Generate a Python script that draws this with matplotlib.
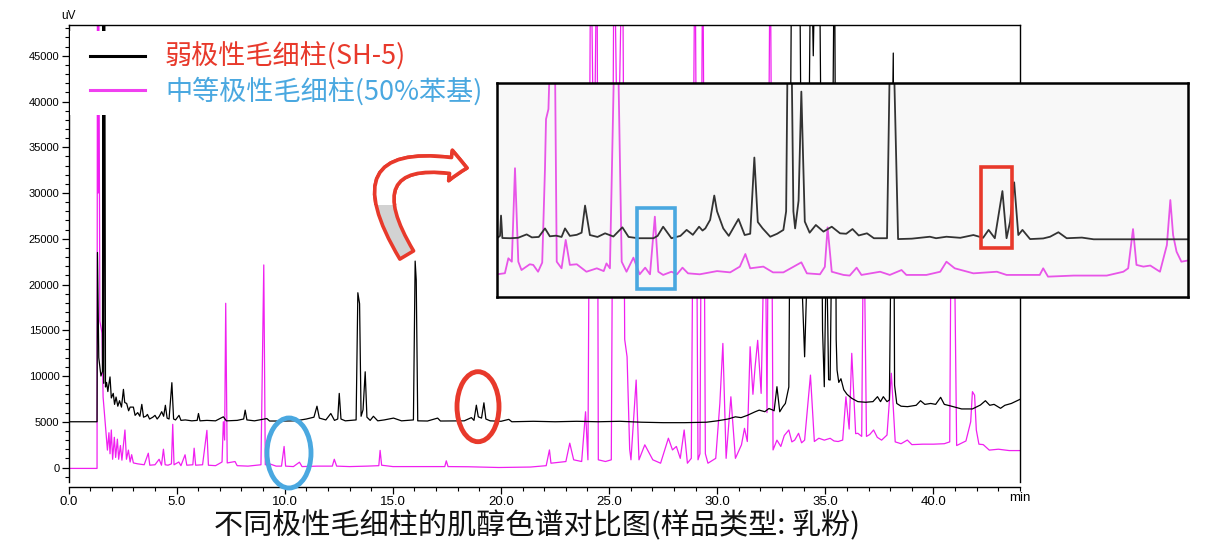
import matplotlib
matplotlib.use('Agg')
import matplotlib.pyplot as plt
from matplotlib.patches import Ellipse, Rectangle, FancyArrowPatch
from matplotlib.ticker import MultipleLocator, FixedLocator

plt.rcParams['font.family'] = ['Liberation Sans', 'DejaVu Sans']
CJK = ['Noto Sans CJK SC', 'DejaVu Sans']

# ---------------- data (main chromatogram, retention time in min, signal in uV) ----------------
sh5_time = [0, 1.32, 1.34, 1.40, 1.50, 1.57, 1.60, 1.63, 1.67, 1.71, 1.76, 1.82, 1.86, 1.92, 1.98,
            2.07, 2.13, 2.20, 2.28, 2.36, 2.45, 2.54, 2.60, 2.69, 2.78, 2.85, 3.00, 3.08, 3.20, 3.30,
            3.39, 3.47, 3.58, 3.65, 3.75, 3.90, 4.00, 4.10, 4.20, 4.31, 4.40, 4.48, 4.56, 4.65, 4.78,
            4.86, 4.95, 5.11, 5.20, 5.40, 5.70, 5.95, 6.01, 6.08, 6.40, 6.80, 7.16, 7.30, 7.80, 8.10,
            8.17, 8.25, 8.60, 9.17, 9.30, 10.0, 10.5, 11.0, 11.35, 11.49, 11.6, 11.9, 12.13, 12.3,
            12.45, 12.52, 12.6, 12.8, 13.3, 13.38, 13.46, 13.53, 13.62, 13.72, 13.8, 13.95, 14.1,
            14.3, 14.6, 15.03, 15.4, 15.95, 16.03, 16.08, 16.15, 16.6, 17.07, 17.2, 18.3, 18.63,
            18.75, 18.86, 18.95, 19.1, 19.21, 19.3, 19.5, 20.0, 20.36, 20.5, 21.5, 22.5, 23.5, 24.5,
            25.5, 26.5, 27.5, 28.5, 29.5, 30.0, 30.5, 30.84, 31.1, 31.39, 31.75, 31.94, 32.2, 32.39,
            32.55, 32.63, 32.76, 32.89, 33.03, 33.15, 33.31, 33.45, 33.56, 33.68, 33.8, 33.92, 34.04,
            34.2, 34.33, 34.44, 34.55, 34.65, 34.75, 34.87, 34.95, 35.05, 35.15, 35.22, 35.32, 35.42,
            35.5, 35.54, 35.62, 35.72, 35.85, 36.0, 36.22, 36.5, 36.86, 37.2, 37.41, 37.55, 37.68,
            37.85, 37.96, 38.06, 38.14, 38.2, 38.3, 38.5, 38.8, 39.05, 39.2, 39.4, 39.6, 39.87, 40.1,
            40.33, 40.5, 40.8, 41.3, 41.8, 42.17, 42.4, 42.6, 42.8, 43.1, 43.3, 43.6, 44.0]
sh5_signal = [5000, 5000, 23500, 12000, 10000, 10500, 60000, 9200, 60000, 8800, 9300, 8300, 9000, 9900, 7600,
              8100, 6900, 7700, 6700, 7300, 6600, 8540, 7100, 7000, 6200, 6600, 6600, 5700, 6000, 5600,
              6900, 5500, 5600, 5800, 5300, 5500, 5700, 5300, 5600, 6100, 5600, 6800, 5400, 5300, 9270,
              5300, 5200, 5700, 5150, 5200, 5100, 5150, 5900, 5100, 5150, 5100, 5540, 5100, 5150, 5300,
              6270, 5200, 5100, 5350, 5080, 5080, 5100, 5300, 5500, 6700, 5400, 5200, 5900, 5150,
              5300, 8100, 5300, 5100, 5200, 19100, 17900, 5600, 6300, 10460, 5500, 5150, 5600,
              5100, 5200, 5400, 5100, 5200, 22560, 20500, 5100, 5080, 5400, 5080, 5100, 5450,
              5150, 6810, 5540, 5400, 7070, 5300, 5100, 5050, 5260, 5000, 5050, 5000, 5050, 5000,
              5050, 4950, 4900, 4900, 4950, 5100, 5300, 5540, 5450, 5700, 6090, 6270, 6100, 6450,
              6300, 6200, 8830, 6090, 6630, 7000, 8800, 60000, 60000, 70000, 60000, 20000, 12100,
              25000, 60000, 45000, 60000, 60000, 50000, 15000, 8830, 25000, 9600, 9560, 30000, 60000,
              14000, 10650, 9300, 9700, 8500, 8000, 7560, 7200, 7130, 7200, 7740, 7200, 7740,
              7200, 7380, 30000, 45300, 9000, 7000, 6700, 6650, 6740, 6800, 7300, 6900, 7000, 6900,
              7670, 6900, 6720, 6400, 6400, 6830, 7300, 6800, 6900, 6470, 6800, 7000, 7450]

ph50_time = [0, 1.32, 1.34, 1.37, 1.39, 1.45, 1.55, 1.60, 1.66, 1.72, 1.80, 1.87, 1.92, 1.98, 2.04,
             2.12, 2.18, 2.26, 2.32, 2.40, 2.47, 2.61, 2.68, 2.77, 2.85, 2.92, 3.0, 3.2, 3.5, 3.69,
             3.76, 4.0, 4.19, 4.3, 4.39, 4.47, 4.6, 4.76, 4.82, 4.88, 5.1, 5.2, 5.39, 5.47, 5.75,
             5.81, 5.88, 6.2, 6.4, 6.47, 6.8, 7.1, 7.16, 7.22, 7.27, 7.34, 7.7, 7.8, 8.3, 8.9, 9.03,
             9.1, 9.3, 9.6, 9.85, 9.97, 10.04, 10.4, 10.68, 10.8, 11.5, 12.2, 12.29, 12.4, 13.0,
             13.8, 14.35, 14.41, 14.48, 15.0, 16.0, 17.4, 17.47, 17.55, 18.5, 19.9, 21.36, 22.09,
             22.24, 22.31, 23.0, 23.18, 23.36, 23.73, 23.91, 24.02, 24.15, 24.3, 24.44, 24.5, 24.83,
             25.1, 25.23, 25.4, 25.62, 25.72, 25.83, 25.95, 26.01, 26.25, 26.38, 26.65, 27.02, 27.38,
             27.74, 27.93, 28.11, 28.29, 28.47, 28.62, 28.8, 28.97, 29.11, 29.2, 29.33, 29.45, 29.57,
             29.93, 30.12, 30.26, 30.41, 30.63, 30.84, 31.12, 31.26, 31.39, 31.52, 31.65, 31.75,
             31.87, 32.03, 32.21, 32.3, 32.45, 32.58, 32.76, 32.94, 33.1, 33.31, 33.45, 33.58, 33.76,
             33.9, 34.04, 34.31, 34.49, 34.7, 34.95, 35.22, 35.4, 35.59, 35.8, 35.95, 36.1, 36.22,
             36.4, 36.5, 36.68, 36.77, 36.9, 37.05, 37.23, 37.4, 37.6, 37.85, 38.05, 38.23, 38.5,
             38.79, 39.0, 39.5, 40.0, 40.5, 40.75, 40.82, 40.95, 41.07, 41.5, 41.72, 41.8, 41.9,
             41.98, 42.1, 42.3, 42.58, 43.0, 43.5, 44.0]
ph50_signal = [-100, -100, 60000, 30000, 60000, 16000, 14700, 7700, 6000, 4400, 1900, 3800, 1500, 4100, 900,
               3300, 1100, 3100, 900, 2400, 800, 4100, 900, 1900, 600, 1400, 500, 400, 300, 1560,
               250, 300, 900, 250, 2000, 300, 250, 400, 4720, 300, 600, 200, 1390, 250, 300,
               2110, 250, 300, 4060, 250, 200, 600, 5000, 3000, 17950, 500, 650, 200, 150, 300, 22140,
               300, 400, 150, 150, 2300, 150, 100, 580, 100, 150, 150, 900, 150, 100,
               150, 200, 1870, 250, 100, 100, 100, 730, 100, 80, 0, 50, 200,
               1920, 470, 650, 2660, 840, 655, 6090, 840, 60000, 30000, 60000, 840, 655,
               840, 60000, 30000, 60000, 14000, 12100, 2000, 840, 9560, 840, 2480, 840, 470,
               3200, 1920, 2300, 1000, 4100, 470, 1000, 60000, 840, 1500, 60000, 1500, 470,
               1000, 7000, 13560, 1000, 7730, 1000, 2480, 4280, 2840, 13200, 8000, 11000,
               13900, 8100, 30000, 6000, 60000, 1920, 2990, 2300, 3500, 4100, 2800, 2990, 3740,
               2700, 2990, 10100, 2840, 3200, 2990, 3190, 2900, 2840, 3000, 7730, 4200, 12480,
               3700, 3740, 3400, 30000, 3400, 3600, 4100, 3300, 2990, 3550, 10300, 2800, 2600,
               3000, 2500, 2550, 2550, 2600, 2800, 30000, 28000, 2400, 2900, 5000, 8290, 7900,
               4100, 2550, 2500, 1900, 2000, 1850, 1850]

x_ticks = [0, 5, 10, 15, 20, 25, 30, 35, 40]
x_ticklabels = ['0.0', '5.0', '10.0', '15.0', '20.0', '25.0', '30.0', '35.0', '40.0']
y_ticks = [0, 5000, 10000, 15000, 20000, 25000, 30000, 35000, 40000, 45000]

# ---------------- data (magnified inset, relative units 0-100) ----------------
inset_sh5_x = [0, 0.39, 0.54, 0.73, 1.84, 3.0, 4.25, 5.0, 6.0, 6.9, 7.6, 8.5, 9.3, 9.8, 10.5, 11.5,
               12.2, 12.7, 13.4, 14.5, 15.6, 16.8, 18.1, 19.0, 20.4, 22.6, 23.2, 24.0, 25.2, 26.5,
               27.4, 28.3, 29.2, 29.7, 30.1, 30.8, 31.4, 31.8, 32.7, 33.5, 34.9, 35.8, 36.6, 37.2,
               37.7, 38.4, 39.5, 40.5, 41.4, 41.8, 42.0, 42.6, 42.85, 43.1, 43.6, 44.0, 44.5, 45.2,
               46.1, 47.2, 48.4, 49.6, 50.5, 51.4, 52.3, 53.5, 54.5, 56.4, 56.8, 57.4, 58.0, 60.0,
               62.6, 63.5, 65.0, 67.0, 68.9, 70.3, 71.1, 72.0, 73.1, 73.7, 74.2, 74.8, 75.4, 76.0,
               77.1, 79.0, 80.0, 81.2, 82.4, 84.6, 86.3, 100]
inset_sh5_y = [27.5, 28.5, 38.0, 27.5, 27.4, 27.6, 29.2, 27.8, 28.0, 32.0, 28.3, 28.6, 28.0, 32.0, 28.5, 29.0,
               30.0, 42.7, 28.9, 28.0, 29.7, 28.2, 32.5, 28.0, 27.4, 27.4, 28.5, 32.8, 27.4, 28.5,
               31.3, 29.0, 32.8, 31.0, 32.0, 36.0, 47.4, 40.0, 32.0, 28.5, 36.4, 28.9, 29.5, 65.2,
               35.0, 32.0, 28.1, 29.5, 31.3, 40.0, 110, 110, 40.0, 32.0, 45.0, 96.1, 35.2, 30.0,
               33.6, 30.5, 32.8, 29.7, 29.5, 31.7, 28.7, 29.7, 27.4, 27.4, 110, 110, 27.0, 27.2,
               28.1, 27.4, 28.1, 27.6, 28.9, 27.6, 31.3, 27.4, 49.5, 27.4, 35.0, 53.6, 28.9, 31.3,
               27.0, 27.3, 28.1, 30.2, 27.4, 27.7, 26.9, 26.9]

inset_ph50_x = [0, 1.1, 1.6, 2.1, 2.56, 3.04, 3.5, 4.7, 5.2, 5.9, 6.5, 6.9, 7.05, 7.4, 7.6, 8.35, 8.6,
                9.3, 9.9, 10.5, 11.5, 12.9, 14.4, 15.4, 15.8, 16.3, 16.9, 17.5, 18.0, 18.7, 19.7, 20.6,
                21.4, 22.1, 22.8, 23.3, 24.0, 25.2, 26.0, 26.8, 27.6, 29.3, 31.8, 33.7, 35.1, 35.9,
                36.6, 38.5, 39.9, 41.4, 42.9, 44.0, 44.8, 46.7, 47.4, 47.8, 48.4, 50.1, 51.0, 52.0,
                52.7, 55.4, 56.8, 58.5, 59.2, 62.1, 64.1, 65.0, 66.2, 68.9, 72.3, 73.7, 78.5, 79.0,
                79.7, 83.4, 88.2, 90.6, 91.3, 92.0, 92.5, 93.5, 94.5, 95.9, 96.9, 97.4, 97.8, 98.3,
                99.0, 100]
inset_ph50_y = [10.5, 11.0, 18.0, 16.4, 60.2, 16.4, 12.5, 15.2, 14.9, 11.7, 16.0, 60.0, 83.2, 87.9, 110, 110, 16.4,
                13.3, 26.6, 14.9, 15.2, 11.7, 13.3, 12.0, 15.6, 13.3, 110, 110, 16.4, 11.7, 18.3, 10.5,
                13.6, 10.5, 37.5, 11.7, 10.2, 11.7, 10.5, 13.6, 10.95, 10.5, 12.0, 11.4, 14.1, 20.0,
                13.3, 14.1, 11.4, 11.4, 14.1, 16.1, 10.95, 10.5, 14.0, 32.5, 11.7, 10.2, 9.9, 13.6,
                10.2, 11.7, 10.2, 12.5, 10.2, 10.2, 11.7, 16.4, 13.3, 10.95, 11.7, 10.2, 10.2, 13.3,
                9.4, 9.9, 9.9, 11.7, 13.3, 31.7, 14.9, 14.1, 14.6, 11.7, 24.2, 45.3, 28.9, 21.1,
                16.4, 17.0]

legend_labels = ['弱极性毛细柱(SH-5)', '中等极性毛细柱(50%苯基)']
caption = '不同极性毛细柱的肌醇色谱对比图(样品类型: 乳粉)'

BLACK = '#000000'
MAGENTA = '#f020f0'
RED = '#e8392b'
BLUE = '#4aa8e0'

# ---------------- figure ----------------
W, H = 1220, 550
fig = plt.figure(figsize=(W / 100, H / 100), dpi=100, facecolor='white')

ax = fig.add_axes([68.5 / W, (H - 481.7) / H, (1020 - 68.5) / W, (481.7 - 25) / H])
ax.plot(ph50_time, ph50_signal, color=MAGENTA, lw=0.9, zorder=2)
ax.plot(sh5_time, sh5_signal, color=BLACK, lw=0.9, zorder=3)
ax.set_xlim(0, 44)
ax.set_ylim(-1552, 48365)
ax.xaxis.set_major_locator(FixedLocator(x_ticks))
ax.set_xticklabels(x_ticklabels)
ax.xaxis.set_minor_locator(MultipleLocator(1))
ax.yaxis.set_major_locator(FixedLocator(y_ticks))
ax.set_yticklabels([str(v) for v in y_ticks])
ax.yaxis.set_minor_locator(MultipleLocator(1000))
ax.tick_params(which='major', direction='out', length=5, width=0.9, labelsize=8, pad=1.5)
ax.tick_params(axis='x', which='major', labelsize=9.5)
ax.tick_params(which='minor', direction='out', length=3, width=0.8)
for s in ax.spines.values():
    s.set_linewidth(1.0)
ax.spines['bottom'].set_position(('outward', 3.6))

# inset
ins = fig.add_axes([497.3 / W, (H - 296.7) / H, 691 / W, 213.4 / H], zorder=5)
ins.set_facecolor('#f8f8f8')
ins.plot(inset_ph50_x, inset_ph50_y, color='#e855e8', lw=1.3)
ins.plot(inset_sh5_x, inset_sh5_y, color='#333333', lw=1.3)
ins.set_xlim(0, 100)
ins.set_ylim(0, 100)
ins.set_xticks([])
ins.set_yticks([])
for s in ins.spines.values():
    s.set_linewidth(1.8)

# overlay in pixel coordinates
ov = fig.add_axes([0, 0, 1, 1], zorder=10)
ov.set_xlim(0, W)
ov.set_ylim(H, 0)
ov.axis('off')
ov.patch.set_alpha(0)

ov.add_patch(Rectangle((69.5, 31), 412, 84, fc='white', ec='none'))
ov.plot([90, 145], [56, 56], color=BLACK, lw=2.2)
ov.plot([90, 145], [90, 90], color='#f040f0', lw=2.2)
ov.text(165, 57, legend_labels[0], color=RED, fontsize=19.5, va='center', ha='left', family=CJK)
ov.text(165, 91, legend_labels[1], color=BLUE, fontsize=19.5, va='center', ha='left', family=CJK)

ov.text(68, 16, 'uV', fontsize=8.5, ha='center', va='center')
ov.text(1020, 498, 'min', fontsize=9.5, ha='center', va='center')
ov.text(537, 526, caption, fontsize=21, ha='center', va='center', color='#111111', family=CJK)

ov.add_patch(Ellipse((478, 406.7), 42, 70, fill=False, ec=RED, lw=3.5))
ov.add_patch(Ellipse((289, 453), 44, 70, fill=False, ec=BLUE, lw=3.5))
ov.add_patch(Rectangle((637, 207.5), 38, 81, fill=False, ec=BLUE, lw=2.6))
ov.add_patch(Rectangle((980.5, 167), 31, 81, fill=False, ec=RED, lw=2.6))

arrow_kw = dict(connectionstyle='arc3,rad=-1.1',
                arrowstyle='simple,head_length=1.2,head_width=2.2,tail_width=1.15',
                mutation_scale=10, ec=RED, lw=2.6, shrinkA=0, shrinkB=0)
arr1 = FancyArrowPatch((406.7, 255), (467, 168), fc='#d2d2d2', **arrow_kw)
ov.add_patch(arr1)
arr2 = FancyArrowPatch((406.7, 255), (467, 168), fc='white', **arrow_kw)
ov.add_patch(arr2)
clip = Rectangle((340, 120), 160, 85, transform=ov.transData)
arr2.set_clip_path(clip)

fig.savefig('out.png', dpi=100, facecolor='white')
